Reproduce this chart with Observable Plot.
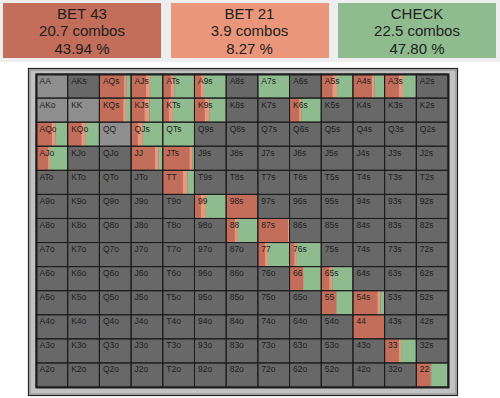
<!DOCTYPE html>
<html>
<head>
<meta charset="utf-8">
<script src="https://cdn.jsdelivr.net/npm/d3@7"></script>
<script src="https://cdn.jsdelivr.net/npm/@observablehq/plot@0.6"></script>
<style>
  body { margin: 0; background: #ffffff; font-family: "Liberation Sans", Arial, sans-serif; }
  #header { position: relative; width: 500px; height: 62px; background: #eeeeee; }
  .box { position: absolute; top: 3px; height: 55px; width: 158px; text-align: center;
         font-size: 15px; line-height: 17.5px; color: #1e1e1e; box-sizing: border-box; padding-top: 1.5px; }
  #chart svg { display: block; }
</style>
</head>
<body>
<div id="header"></div>
<div id="chart"></div>
<script>
const ranks = ["A","K","Q","J","T","9","8","7","6","5","4","3","2"];
const actionNames = ["BET 43","BET 21","CHECK"];
const actionCombos = [20.7, 3.9, 22.5];
const actionPercents = ["43.94","8.27","47.80"];
const actionColors = ["#c26e5a","#e9967a","#8fbc8f"];

const blockedHands = ["AA","AKo","KK","QQ"];
const rangeHands = ["AQs","AJs","ATs","A9s","A7s","A5s","A4s","A3s","KQs","KJs","KTs","K9s","K6s","AQo","KQo","QJs","QTs","AJo","JJ","JTs","TT","99","98s","88","87s","77","76s","66","65s","55","54s","44","33","22"];
const bet43 = [0.78,0.47,0.25,0.20,0,0.35,0.60,0.45,0.75,0.42,0.19,0.32,0.30,0.50,0.43,0.21,0,0.38,0.75,0.84,0.63,0.20,1,0.27,0.95,0.22,0.15,0.42,0.25,0.47,0.77,1,0.45,0.45];
const bet21 = [0.08,0.13,0.12,0.10,0,0.15,0.08,0.13,0.09,0.16,0.13,0.16,0.08,0.12,0.14,0.16,0,0.06,0.12,0.10,0.15,0.16,0,0.10,0.05,0.10,0.08,0.03,0.10,0.02,0.10,0,0.07,0.02];
const check = [0.14,0.40,0.63,0.70,1,0.50,0.32,0.42,0.16,0.42,0.68,0.52,0.62,0.38,0.43,0.63,1,0.56,0.13,0.06,0.22,0.64,0,0.63,0,0.68,0.77,0.55,0.65,0.51,0.13,0,0.48,0.53];

// header boxes
const header = document.getElementById("header");
actionNames.forEach((name, i) => {
  const div = document.createElement("div");
  div.className = "box";
  div.style.left = (3 + i * 167.5) + "px";
  div.style.background = actionColors[i];
  div.innerHTML = `${name}<br>${actionCombos[i]} combos<br>${actionPercents[i]} %`;
  header.appendChild(div);
});

// cells
function handName(r, c) {
  if (r === c) return ranks[r] + ranks[c];
  if (c > r) return ranks[r] + ranks[c] + "s";
  return ranks[c] + ranks[r] + "o";
}
const cells = [];
ranks.forEach((_, r) => ranks.forEach((_, c) => {
  const hand = handName(r, c);
  cells.push({row: r, col: c, hand, blocked: blockedHands.includes(hand)});
}));
const cellIndex = new Map(cells.map(d => [d.hand, d]));

const freqs = [bet43, bet21, check];
const segments = [];
rangeHands.forEach((hand, k) => {
  const cell = cellIndex.get(hand);
  let acc = 0;
  freqs.forEach((f, a) => {
    const v = f[k];
    if (v > 0) segments.push({action: a, row: cell.row, x1: cell.col + acc, x2: cell.col + acc + v});
    acc += v;
  });
});

const chart = Plot.plot({
  width: 500,
  height: 336,
  marginLeft: 36,
  marginRight: 52,
  marginTop: 12,
  marginBottom: 11,
  x: {domain: [0, 13], axis: null},
  y: {domain: [13, 0], axis: null},
  style: {background: "transparent", fontFamily: "Liberation Sans, Arial, sans-serif"},
  marks: [
    Plot.frame({fill: "#c2c2c2", stroke: "#222", strokeWidth: 1.2, insetLeft: -8, insetRight: -9, insetTop: -6, insetBottom: -8}),
    Plot.frame({stroke: "#9a9a9a", strokeWidth: 1.5, insetLeft: -6.5, insetRight: -7.5, insetTop: -4.5, insetBottom: -6.5}),
    Plot.rect(cells, {x1: "col", x2: d => d.col + 1, y1: "row", y2: d => d.row + 1, fill: d => d.blocked ? "#8f8f8f" : "#686868"}),
    ...actionColors.map((color, a) =>
      Plot.rect(segments.filter(s => s.action === a), {x1: "x1", x2: "x2", y1: "row", y2: d => d.row + 1, fill: color})
    ),
    Plot.rect(cells, {x1: "col", x2: d => d.col + 1, y1: "row", y2: d => d.row + 1, fill: "none", stroke: "#1c1c1c", strokeWidth: 1}),
    Plot.frame({stroke: "#1c1c1c", strokeWidth: 2}),
    Plot.text(cells, {x: "col", y: "row", text: "hand", textAnchor: "start", lineAnchor: "top", dx: 3, dy: 3, fontSize: 8.5, fill: "#1e1e1e"})
  ]
});
document.getElementById("chart").appendChild(chart);
</script>
</body>
</html>
